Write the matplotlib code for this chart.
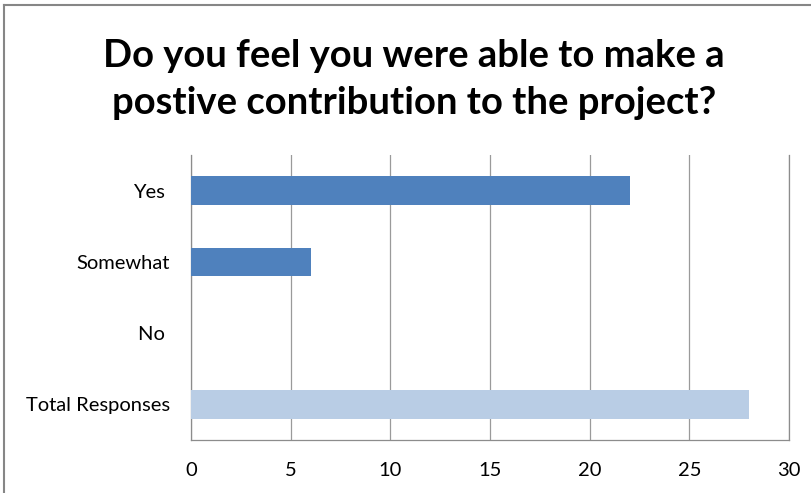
import matplotlib.pyplot as plt
from matplotlib.lines import Line2D

# Survey answers
categories = ['Yes ', 'Somewhat', 'No ', 'Total Responses']
counts = [22, 6, 0, 28]
bar_colors = ['#4F81BD', '#4F81BD', '#4F81BD', '#B9CDE5']
x_ticks = [0, 5, 10, 15, 20, 25, 30]

plt.rcParams['font.family'] = ['Lato', 'DejaVu Sans']

fig = plt.figure(figsize=(8.12, 4.93), dpi=100)
ax = fig.add_axes([191 / 812, 1 - 440 / 493, (789 - 191) / 812, (440 - 155) / 493])

y_pos = list(range(len(categories)))
ax.barh(y_pos, counts, height=0.4, color=bar_colors, zorder=3)
ax.set_ylim(len(categories) - 0.5, -0.5)
ax.set_yticks(y_pos)
ax.set_yticklabels(categories, fontsize=14.5)
ax.set_xlim(0, 30)
ax.set_xticks(x_ticks)
ax.set_xticklabels([str(v) for v in x_ticks], fontsize=14.5)
ax.tick_params(length=0)
ax.tick_params(axis='x', pad=16)
ax.tick_params(axis='y', pad=15)
ax.grid(axis='x', color='#9A9A9A', linewidth=0.9, zorder=0)

for side in ['left', 'bottom', 'right']:
    ax.spines[side].set_color('#8C8C8C')
    ax.spines[side].set_linewidth(0.9)
ax.spines['top'].set_visible(False)

title_x = 414 / 812
fig.text(title_x, 1 - 56 / 493, 'Do you feel you were able to make a',
         ha='center', va='center', fontsize=27.5, fontweight='bold')
fig.text(title_x, 1 - 103 / 493, 'postive contribution to the project?',
         ha='center', va='center', fontsize=27.5, fontweight='bold')

# outer chart frame (only top and left edges visible)
fig.add_artist(Line2D([4 / 812, 1], [1 - 5 / 493, 1 - 5 / 493], color='#868686', linewidth=1.5))
fig.add_artist(Line2D([4 / 812, 4 / 812], [0, 1 - 5 / 493], color='#868686', linewidth=1.5))

fig.savefig('out.png', dpi=100)
